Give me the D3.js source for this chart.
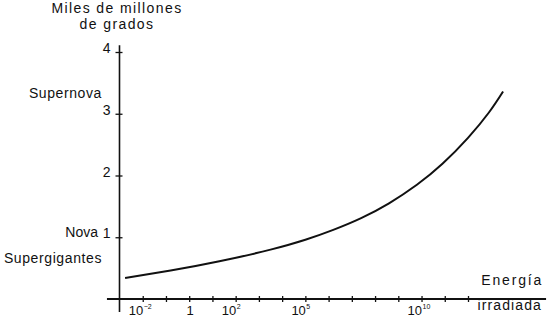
<!DOCTYPE html>
<html>
<head>
<meta charset="utf-8">
<script src="https://cdn.jsdelivr.net/npm/d3@7"></script>
<style>
  body { margin: 0; background: #fff; }
  svg { display: block; font-family: "Liberation Sans", Arial, sans-serif; }
</style>
</head>
<body>
<div class="container"></div>
<script>
// energy exponent (log10) vs temperature, thousands of millions of degrees
var curveExp = [-2.76, -0.8, 1.3, 3.5, 5.0, 6.2, 7.4, 8.6, 9.8, 10.9, 12.0, 12.9, 13.51];
var curveTemp = [0.34, 0.46, 0.61, 0.8, 0.96, 1.12, 1.31, 1.55, 1.85, 2.19, 2.61, 3.02, 3.36];

var xTickExps = [-2, -1, 0, 1, 2, 3, 4, 5, 6, 7, 8, 9, 10, 11, 12];
var xLabelExps = [-2, 0, 2, 5, 10];
var yTicks = [1, 2, 3, 4];
var starLabels = ["Supernova", "Nova", "Supergigantes"];
var starTemps = [3.26, 1, 0.58];

var w = 550;
var h = 322;

var svg = d3.select(".container")
    .append("svg")
    .attr("width", w)
    .attr("height", h);

// x is linear in the decade exponent, the y axis sits at 10^-3
var x = d3.scaleLinear()
    .domain([-3, 12])
    .range([119.5, 468]);

var y = d3.scaleLinear()
    .domain([0, 4])
    .range([299, 52]);

// axis lines
svg.append("line")
    .attr("x1", x(-3.54)).attr("x2", x(15.36))
    .attr("y1", y(0)).attr("y2", y(0))
    .attr("stroke", "#111")
    .attr("stroke-width", 2);

svg.append("line")
    .attr("x1", x(-3)).attr("x2", x(-3))
    .attr("y1", y(4.11)).attr("y2", y(-0.21))
    .attr("stroke", "#111")
    .attr("stroke-width", 1.6);

var xAxis = d3.axisBottom(x)
    .tickValues(xTickExps)
    .tickSize(3)
    .tickFormat("");

var xg = svg.append("g")
    .attr("transform", "translate(0," + y(0) + ")")
    .call(xAxis);
xg.select(".domain").remove();
xg.selectAll(".tick line")
    .attr("y1", -3)
    .attr("stroke", "#111")
    .attr("stroke-width", 1.3);

var yAxis = d3.axisLeft(y)
    .tickValues(yTicks)
    .tickSize(-3)
    .tickFormat(d3.format("d"));

var yg = svg.append("g")
    .attr("transform", "translate(" + x(-3) + ",0)")
    .call(yAxis);
yg.select(".domain").remove();
yg.selectAll(".tick line")
    .attr("x1", -4)
    .attr("stroke", "#111")
    .attr("stroke-width", 1.3);
yg.selectAll(".tick text")
    .attr("x", -9)
    .attr("dy", "0.05em")
    .attr("font-size", "14px")
    .attr("font-family", "Liberation Sans, Arial, sans-serif")
    .attr("fill", "#111");

// x tick labels: "10" with the exponent raised
var xl = svg.selectAll(".xlab")
    .data(xLabelExps)
    .enter()
    .append("g")
    .attr("class", "xlab")
    .attr("fill", "#111");

xl.append("text")
    .attr("x", function (d) { return d === 0 ? x(d) + 1 : x(d) + 0.5; })
    .attr("y", 315)
    .attr("text-anchor", function (d) { return d === 0 ? "middle" : "end"; })
    .attr("font-size", "13px")
    .text(function (d) { return d === 0 ? "1" : "10"; });

xl.filter(function (d) { return d !== 0; })
    .append("text")
    .attr("x", function (d) { return x(d) + 1; })
    .attr("y", 309)
    .attr("font-size", "7px")
    .text(function (d) { return d < 0 ? "\u2212" + (-d) : d; });

// line
var pts = curveExp.map(function (e, i) { return [e, curveTemp[i]]; });

var line = d3.line()
    .x(function (d) { return x(d[0]); })
    .y(function (d) { return y(d[1]); })
    .curve(d3.curveNatural);

svg.append("path")
    .datum(pts)
    .attr("d", line)
    .attr("fill", "none")
    .attr("stroke", "#111")
    .attr("stroke-width", 2);

// star type labels on the left
svg.selectAll(".star")
    .data(starLabels)
    .enter()
    .append("text")
    .attr("class", "star")
    .attr("x", function (d, i) { return i === 1 ? 98 : 102; })
    .attr("y", function (d, i) { return y(starTemps[i]); })
    .attr("text-anchor", "end")
    .attr("font-size", "14px")
    .attr("letter-spacing", function (d, i) { return i === 1 ? "0px" : "0.6px"; })
    .attr("fill", "#111")
    .text(function (d) { return d; });

// axis titles
svg.append("text")
    .attr("x", 117)
    .attr("y", 13)
    .attr("text-anchor", "middle")
    .attr("font-size", "14px")
    .attr("letter-spacing", "1.4px")
    .attr("fill", "#111")
    .text("Miles de millones");

svg.append("text")
    .attr("x", 117)
    .attr("y", 29)
    .attr("text-anchor", "middle")
    .attr("font-size", "14px")
    .attr("letter-spacing", "1.4px")
    .attr("fill", "#111")
    .text("de grados");

svg.append("text")
    .attr("x", 543)
    .attr("y", 285)
    .attr("text-anchor", "end")
    .attr("font-size", "14px")
    .attr("letter-spacing", "1.8px")
    .attr("fill", "#111")
    .text("Energía");

svg.append("text")
    .attr("x", 542)
    .attr("y", 310)
    .attr("text-anchor", "end")
    .attr("font-size", "14px")
    .attr("letter-spacing", "1.1px")
    .attr("fill", "#111")
    .text("irradiada");
</script>
</body>
</html>
